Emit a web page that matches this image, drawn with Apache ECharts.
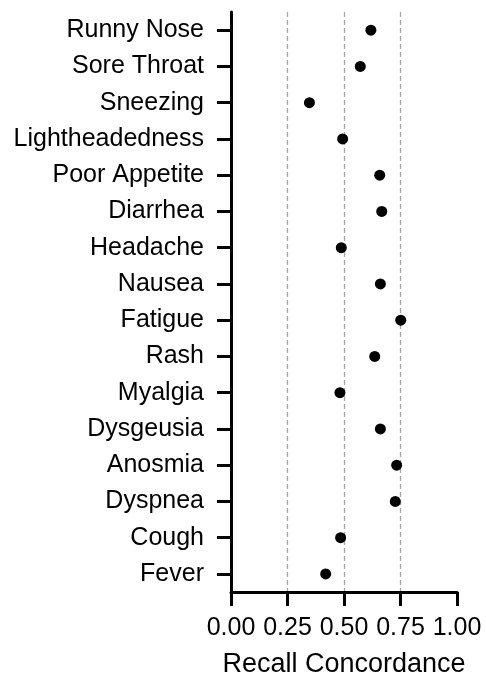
<!DOCTYPE html>
<html>
<head>
<meta charset="utf-8">
<script src="https://cdn.jsdelivr.net/npm/echarts@6/dist/echarts.min.js"></script>
<style>
html,body{margin:0;padding:0;background:#fff;}
#chart{width:486px;height:683px;}
</style>
</head>
<body>
<div id="chart"></div>
<script>
const symptoms = ['Runny Nose','Sore Throat','Sneezing','Lightheadedness','Poor Appetite','Diarrhea','Headache','Nausea','Fatigue','Rash','Myalgia','Dysgeusia','Anosmia','Dyspnea','Cough','Fever'];
const concordance = [0.619,0.572,0.347,0.494,0.658,0.667,0.488,0.661,0.751,0.636,0.482,0.661,0.733,0.727,0.485,0.419];
const xTicks = [0, 0.25, 0.5, 0.75, 1.0];

const font = '"Liberation Sans", Arial, Helvetica, sans-serif';
const chart = echarts.init(document.getElementById('chart'), null, {renderer: 'canvas'});
chart.setOption({
  animation: false,
  backgroundColor: '#fff',
  grid: {left: 231, right: 29, top: 12, bottom: 91, containLabel: false, outerBoundsMode: 'none'},
  xAxis: {
    type: 'value',
    min: xTicks[0],
    max: xTicks[xTicks.length - 1],
    interval: 0.25,
    name: 'Recall Concordance',
    nameLocation: 'middle',
    nameGap: 59,
    nameTextStyle: {color: '#000', fontSize: 27, fontFamily: font},
    axisLine: {show: true, lineStyle: {color: '#000', width: 3}},
    axisTick: {show: true, length: 14, lineStyle: {color: '#000', width: 3}},
    axisLabel: {color: '#000', fontSize: 25, fontFamily: font, margin: 24,
      formatter: v => v.toFixed(2)},
    splitLine: {show: true, lineStyle: {color: ['rgba(0,0,0,0)', '#a6a6a6', '#a6a6a6', '#a6a6a6', 'rgba(0,0,0,0)'], width: 1.3, type: [5, 3]}}
  },
  yAxis: {
    type: 'category',
    inverse: true,
    data: symptoms,
    axisLine: {show: true, lineStyle: {color: '#000', width: 3}},
    axisTick: {show: true, alignWithLabel: true, length: 14, lineStyle: {color: '#000', width: 3}},
    axisLabel: {color: '#000', fontSize: 25, fontFamily: font, margin: 27},
    splitLine: {show: false}
  },
  series: [{
    type: 'scatter',
    data: concordance.map((v, i) => [v, symptoms[i]]),
    symbol: 'circle',
    symbolSize: 11,
    itemStyle: {color: '#000', opacity: 1},
    z: 5
  }]
});
</script>
</body>
</html>
